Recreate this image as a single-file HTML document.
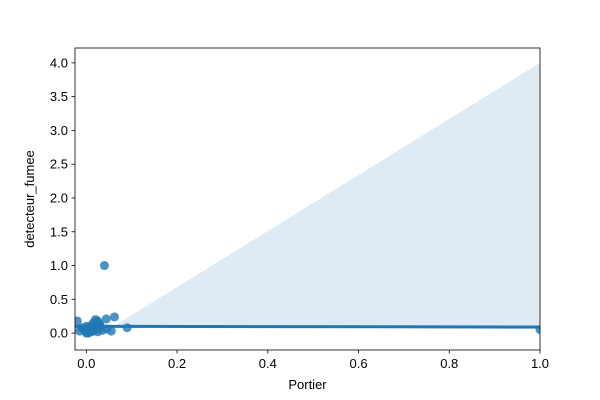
<!DOCTYPE html>
<html><head><meta charset="utf-8"><style>body{margin:0;background:#fff}svg{display:block;font-family:"Liberation Sans",sans-serif}</style></head>
<body>
<svg id="c" width="600" height="400"></svg>
<script>
const xs=[0.04,0.062,0.044,0.09,-0.02,1.0,0.055,0.0,0.005,0.01,0.015,0.02,0.025,0.03,-0.01,-0.015,0.0,0.01,0.02,0.03,0.035,0.005,0.012,0.018,0.022,-0.005,0.008,0.028,0.045,0.0,0.015,0.025];
const ys=[1.0,0.24,0.21,0.08,0.18,0.05,0.03,0.02,0.05,0.1,0.15,0.2,0.18,0.12,0.08,0.03,0.0,0.02,0.06,0.1,0.04,0.0,0.08,0.12,0.16,0.05,0.1,0.14,0.06,0.1,0.03,0.02];
const bandX=[-0.025,0.06,1.0];
const bandUpper=[0.1,0.1,4.0];
const bandLower=[0.1,0.1,0.06];
const lineX=[-0.025,1.0];
const lineY=[0.1,0.09];
const xTicks=[0,0.2,0.4,0.6,0.8,1.0];
const yTicks=[0,0.5,1,1.5,2,2.5,3,3.5,4];
const L=75,R=540,T=48,B=350,x0=-0.025,x1=1.0,y0=-0.25,y1=4.22;
const X=v=>L+(v-x0)/(x1-x0)*(R-L), Y=v=>B-(v-y0)/(y1-y0)*(B-T);
const s=document.getElementById('c');const NS='http://www.w3.org/2000/svg';
function el(t,a,p){const e=document.createElementNS(NS,t);for(const k in a)e.setAttribute(k,a[k]);(p||s).appendChild(e);return e;}
const clip=el('clipPath',{id:'cp'});el('rect',{x:L,y:T,width:R-L,height:B-T},clip);
const g=el('g',{'clip-path':'url(#cp)'});
let pts=bandX.map((v,i)=>X(v)+','+Y(bandUpper[i]));
pts=pts.concat(bandX.map((v,i)=>X(v)+','+Y(bandLower[i])).reverse());
const band=el('polygon',{points:pts.join(' '),fill:'#1f77b4','fill-opacity':0.15},g);


xs.forEach((v,i)=>{const c=el('circle',{cx:X(v),cy:Y(ys[i]),r:4.5,fill:'#1f77b4','fill-opacity':0.8},g);

});
const ln=el('line',{x1:X(lineX[0]),y1:Y(lineY[0]),x2:X(lineX[1]),y2:Y(lineY[1]),stroke:'#1f77b4','stroke-width':3},g);


const fr=el('rect',{x:L,y:T,width:R-L,height:B-T,fill:'none',stroke:'#000','stroke-width':0.8});


xTicks.forEach(v=>{el('line',{x1:X(v),x2:X(v),y1:B,y2:B+3.5,stroke:'#000','stroke-width':0.8});
const t=el('text',{x:X(v),y:B+18,'text-anchor':'middle','font-size':13});t.textContent=v.toFixed(1);

});
yTicks.forEach(v=>{el('line',{x1:L,x2:L-3.5,y1:Y(v),y2:Y(v),stroke:'#000','stroke-width':0.8});
const t=el('text',{x:L-7,y:Y(v)+4.5,'text-anchor':'end','font-size':13});t.textContent=v.toFixed(1);

});
const xt=el('text',{x:(L+R)/2,y:389,'text-anchor':'middle','font-size':13});xt.textContent='Portier';


const yt=el('text',{x:0,y:0,'text-anchor':'middle','font-size':13,transform:`translate(34,${(T+B)/2}) rotate(-90)`});yt.textContent='detecteur_fumee';


</script>
</body></html>
